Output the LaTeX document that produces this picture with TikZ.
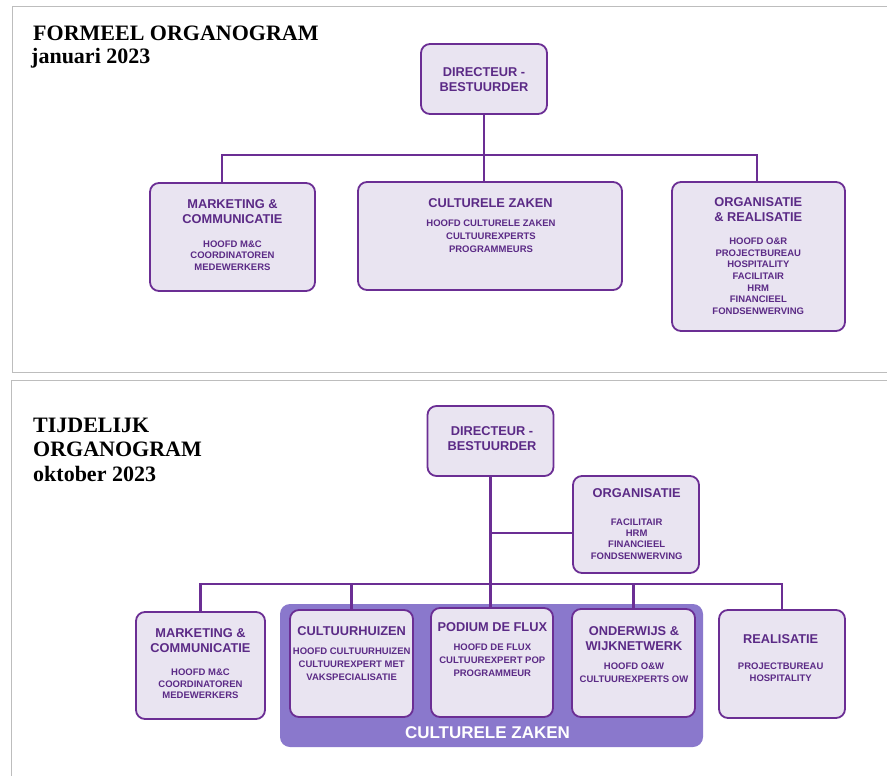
\documentclass[tikz,border=0pt]{standalone}
\usepackage{fontspec}
\setmainfont{Liberation Serif}
\setsansfont{Liberation Sans}
\definecolor{pborder}{HTML}{6B2E94}
\definecolor{pfill}{HTML}{E9E4F1}
\definecolor{ptext}{HTML}{5B2A86}
\definecolor{pbig}{HTML}{8A78CC}
\definecolor{pframe}{HTML}{BDBDBD}
\begin{document}
\begin{tikzpicture}[x=1pt,y=-1pt,
 box/.style={draw=pborder, fill=pfill, line width=1.8pt, rounded corners=9pt, inner sep=0pt},
 conn/.style={draw=pborder, line width=2.2pt},
 ttl/.style={text=ptext, font=\sffamily\bfseries\fontsize{12.8}{#1}\selectfont, align=center, inner sep=0pt},
 ttl/.default=15,
 sub/.style={text=ptext, font=\sffamily\bfseries\fontsize{9.5}{#1}\selectfont, align=center, inner sep=0pt},
 sub/.default=11.6,
 head/.style={font=\rmfamily\bfseries\fontsize{22}{24}\selectfont, anchor=base west, inner sep=0pt}]

\useasboundingbox (0,0) rectangle (887,776);

% frames
\draw[pframe, line width=1pt] (887,6.3) -- (12,6.3) -- (12,372.3) -- (887,372.3);
\draw[pframe, line width=1pt] (887,380.3) -- (11.5,380.3) -- (11.5,776);

% headings
\node[head] (h1a) at (33,40.7) {FORMEEL ORGANOGRAM};
\node[head] (h1b) at (31,64) {januari 2023};
\node[head] (h2a) at (33,432.3) {TIJDELIJK};
\node[head] (h2b) at (33,456.7) {ORGANOGRAM};
\node[head] (h2c) at (33,481.7) {oktober 2023};

% ---------- top chart ----------
\node[box, minimum width=126pt, minimum height=70pt] (d1) at (484,79) {};
\node[box, minimum width=165pt, minimum height=108pt] (mc1) at (232.5,237) {};
\node[box, minimum width=264pt, minimum height=108pt] (cz1) at (490,236) {};
\node[box, minimum width=173pt, minimum height=149pt] (or1) at (758.5,256.5) {};

\node[ttl] (d1t) at (484,80) {DIRECTEUR -\\BESTUURDER};
\node[ttl] (mc1t) at (232.5,212) {MARKETING \&\\COMMUNICATIE};
\node[sub] (mc1s) at (232.5,255.7) {HOOFD M\&C\\COORDINATOREN\\MEDEWERKERS};
\node[ttl] (cz1t) at (490.5,203) {CULTURELE ZAKEN};
\node[sub=13.3] (cz1s) at (491,236.3) {HOOFD CULTURELE ZAKEN\\CULTUUREXPERTS\\PROGRAMMEURS};
\node[ttl=15.3] (or1t) at (758.3,209.3) {ORGANISATIE\\\& REALISATIE};
\node[sub] (or1s) at (758.3,276.2) {HOOFD O\&R\\PROJECTBUREAU\\HOSPITALITY\\FACILITAIR\\HRM\\FINANCIEEL\\FONDSENWERVING};

\coordinate (t1L) at (222,155);
\coordinate (t1R) at (757,155);
\draw[conn] (d1.south) -- (d1.south |- cz1.north);
\draw[conn] (t1L |- mc1.north) -- (t1L) -- (t1R) -- (t1R |- or1.north);

% ---------- bottom chart ----------
\node[fill=pbig, rounded corners=10pt, minimum width=423pt, minimum height=143pt, inner sep=0pt] (czb) at (491.5,675.5) {};
\node[text=white, font=\sffamily\bfseries\fontsize{17}{17}\selectfont, inner sep=0pt] (czl) at (487.5,732.3) {CULTURELE ZAKEN};

\node[box, minimum width=126pt, minimum height=70pt] (d2) at (490.5,441) {};
\node[box, minimum width=126pt, minimum height=97pt] (org2) at (636,524.5) {};
\node[box, minimum width=129pt, minimum height=107pt] (mc2) at (200.5,665.5) {};
\node[box, minimum width=123pt, minimum height=107pt] (ch) at (351.5,663.5) {};
\node[box, minimum width=122pt, minimum height=109pt] (pf) at (492,662.5) {};
\node[box, minimum width=123pt, minimum height=108pt] (ow) at (633.5,663) {};
\node[box, minimum width=126pt, minimum height=108pt] (re) at (782,664) {};

\node[ttl] (d2t) at (492,438.5) {DIRECTEUR -\\BESTUURDER};
\node[ttl] (org2t) at (636.7,493.3) {ORGANISATIE};
\node[sub=11.4] (org2s) at (636.7,539) {FACILITAIR\\HRM\\FINANCIEEL\\FONDSENWERVING};
\node[ttl] (mc2t) at (200.5,640.8) {MARKETING \&\\COMMUNICATIE};
\node[sub] (mc2s) at (200.5,684) {HOOFD M\&C\\COORDINATOREN\\MEDEWERKERS};
\node[ttl] (cht) at (351.7,630.7) {CULTUURHUIZEN};
\node[sub=13.2] (chs) at (351.7,664) {HOOFD CULTUURHUIZEN\\CULTUUREXPERT MET\\VAKSPECIALISATIE};
\node[ttl] (pft) at (492.3,627.3) {PODIUM DE FLUX};
\node[sub=13.3] (pfs) at (492.3,660.3) {HOOFD DE FLUX\\CULTUUREXPERT POP\\PROGRAMMEUR};
\node[ttl=15.3] (owt) at (634,638.3) {ONDERWIJS \&\\WIJKNETWERK};
\node[sub=13.3] (ows) at (634,672.7) {HOOFD O\&W\\CULTUUREXPERTS OW};
\node[ttl] (ret) at (780.7,639) {REALISATIE};
\node[sub=11.3] (res) at (780.7,672.3) {PROJECTBUREAU\\HOSPITALITY};

\coordinate (br) at (490.5,533);
\coordinate (bus) at (0,584);
\draw[conn] (d2.south) -- (d2.south |- pf.north);
\draw[conn] (br) -- (br -| org2.west);
\draw[conn] (mc2.north) -- (mc2.north |- bus) -- (re.north |- bus) -- (re.north);
\draw[conn] (ch.north) -- (ch.north |- bus);
\draw[conn] (ow.north) -- (ow.north |- bus);
\end{tikzpicture}
\end{document}
